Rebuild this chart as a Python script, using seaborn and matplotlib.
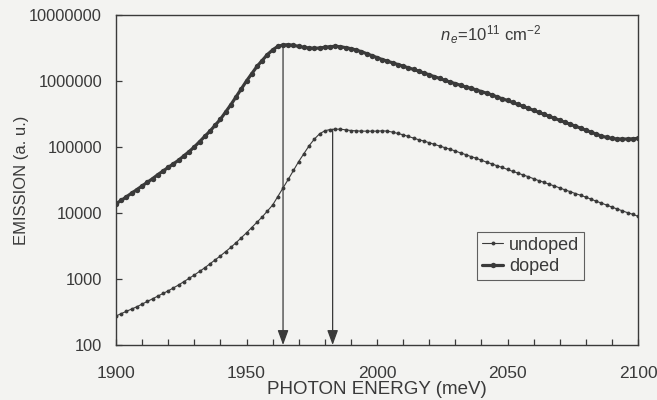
import numpy as np
import pandas as pd
import matplotlib
matplotlib.use("Agg")
import matplotlib.pyplot as plt
from matplotlib.ticker import FixedLocator, MultipleLocator, FuncFormatter, NullLocator
import seaborn as sns

# ---- data ----
energy = np.arange(1900, 2101, 2)  # photon energy grid, meV

undoped = [
    275, 299, 324, 351, 380, 417, 457, 501, 550, 603,
    661, 733, 813, 912, 1023, 1148, 1303, 1479, 1698, 1950,
    2239, 2600, 3020, 3548, 4217, 5012, 6026, 7244, 8710, 10720,
    13180, 17780, 23990, 32360, 44160, 60260, 79430, 104700, 131800, 158500,
    175800, 184100, 186200, 186200, 182000, 177800, 175800, 173800, 173800, 173800,
    173800, 175800, 173800, 167900, 160300, 153100, 144500, 136500, 128800, 123000,
    116100, 109600, 103500, 97700, 92300, 87100, 81300, 76700, 71600, 67600,
    63100, 58900, 55600, 51900, 49000, 45700, 42700, 40300, 37600, 35500,
    33100, 30900, 29200, 27200, 25700, 24000, 22400, 21100, 19700, 18600,
    17400, 16200, 15100, 14100, 13200, 12300, 11500, 10800, 10100, 9550,
    8910,
]

doped = [
    13800, 15500, 17600, 20000, 22600, 25700, 29200, 33100, 38000, 43200,
    49000, 55600, 63100, 73300, 85100, 100000, 120200, 144500, 173800, 213800,
    263000, 338800, 436500, 575400, 758600, 1000000, 1288000, 1660000, 2042000, 2512000,
    2951000, 3350000, 3508000, 3548000, 3467000, 3350000, 3236000, 3162000, 3126000, 3162000,
    3236000, 3311000, 3350000, 3311000, 3199000, 3090000, 2951000, 2786000, 2600000, 2427000,
    2265000, 2113000, 1995000, 1884000, 1778000, 1679000, 1585000, 1496000, 1413000, 1318000,
    1245000, 1161000, 1096000, 1023000, 966000, 912000, 861000, 813000, 776000, 733000,
    692000, 653000, 617000, 575000, 537000, 507000, 473000, 442000, 412000, 385000,
    359000, 335000, 313000, 292000, 272000, 254000, 237000, 221000, 207000, 193000,
    180000, 168000, 157000, 146000, 140000, 135000, 132000, 132000, 132000, 133000,
    135000,
]

series_names = ["undoped", "doped"]
x_ticks = [1900, 1950, 2000, 2050, 2100]
y_ticks = [100, 1000, 10000, 100000, 1000000, 10000000]
arrow_energies = [1964, 1983]
arrow_starts = [3500000, 185000]

x_label = "PHOTON ENERGY (meV)"
y_label = "EMISSION (a. u.)"
annotation = r"$\mathit{n}_{\,e}$=10$^{11}$ cm$^{-2}$"

# ---- styling ----
sns.set_style("ticks")
plt.rcParams["font.family"] = ["Liberation Sans", "DejaVu Sans"]
plt.rcParams["mathtext.fontset"] = "custom"
plt.rcParams["mathtext.rm"] = "Liberation Sans"
plt.rcParams["mathtext.it"] = "Liberation Sans:italic"
plt.rcParams["mathtext.bf"] = "Liberation Sans:bold"

ink = "#3a3a3a"
bg = "#f3f3f1"

fig = plt.figure(figsize=(6.57, 4.0), dpi=100, facecolor=bg)
ax = fig.add_axes([116 / 657, 1 - 345 / 400, (638 - 116) / 657, (345 - 15) / 400])
ax.set_facecolor(bg)

df_u = pd.DataFrame({"energy": energy, "emission": undoped})
df_d = pd.DataFrame({"energy": energy, "emission": doped})

sns.lineplot(data=df_u, x="energy", y="emission", ax=ax, color=ink, lw=0.8,
             marker="o", markersize=2.8, markeredgewidth=0, label=series_names[0])
sns.lineplot(data=df_d, x="energy", y="emission", ax=ax, color=ink, lw=2.3,
             marker="o", markersize=3.9, markeredgewidth=0, label=series_names[1])

ax.set_yscale("log")
ax.set_xlim(1900, 2100)
ax.set_ylim(100, 10000000)

ax.xaxis.set_major_locator(FixedLocator(x_ticks))
ax.xaxis.set_minor_locator(MultipleLocator(10))
ax.yaxis.set_major_locator(FixedLocator(y_ticks))
ax.yaxis.set_minor_locator(NullLocator())
ax.yaxis.set_major_formatter(FuncFormatter(lambda v, p: f"{int(round(v))}"))

ax.tick_params(axis="both", which="both", direction="in", color=ink,
               labelcolor=ink, width=0.9)
ax.tick_params(axis="both", which="major", length=4)
ax.tick_params(axis="x", which="minor", length=4)
ax.tick_params(axis="x", which="major", pad=15, labelsize=12.5)
ax.tick_params(axis="y", which="major", pad=10, labelsize=11.8)

for s in ax.spines.values():
    s.set_color(ink)
    s.set_linewidth(1.0)

ax.set_xlabel(x_label, fontsize=13.5, color=ink, labelpad=0)
ax.set_ylabel(y_label, fontsize=12, color=ink, labelpad=0)

# arrows
for e, y0 in zip(arrow_energies, arrow_starts):
    ax.annotate("", xy=(e, 100), xytext=(e, y0),
                arrowprops=dict(arrowstyle="-|>,head_length=0.9,head_width=0.33",
                                color=ink, lw=0.9, shrinkA=0, shrinkB=0))

ax.text(0.62, 0.94, annotation, transform=ax.transAxes, fontsize=12,
        color=ink, ha="left", va="center")

leg = ax.legend(loc="upper left", bbox_to_anchor=(0.692, 0.342), fontsize=13,
                frameon=True, fancybox=False, handlelength=1.2, handletextpad=0.3,
                borderpad=0.25, labelspacing=0.25, borderaxespad=0)
leg.get_frame().set_edgecolor(ink)
leg.get_frame().set_linewidth(0.8)
leg.get_frame().set_facecolor(bg)
for t in leg.get_texts():
    t.set_color(ink)

fig.savefig("out.png", dpi=100, facecolor=bg)
